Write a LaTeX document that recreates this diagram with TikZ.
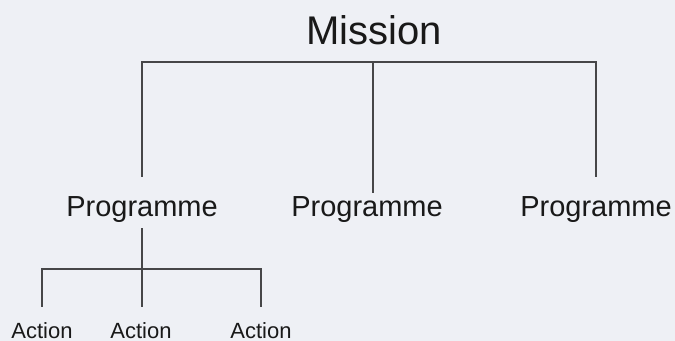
\documentclass[tikz,border=0pt]{standalone}
\usepackage{fontspec}
\setmainfont{Liberation Sans}
\usepackage{tikz}
\definecolor{paper}{RGB}{238,240,245}
\definecolor{ink}{RGB}{25,25,25}
\definecolor{wire}{RGB}{70,70,72}
\tikzstyle{MissionText}=[inner sep=0, anchor=base, text=ink, font=\fontsize{30}{36}\selectfont]
\tikzstyle{ProgText}=[inner sep=0, anchor=base, text=ink, font=\fontsize{21.75}{26}\selectfont]
\tikzstyle{ActText}=[inner sep=0, anchor=base, text=ink, font=\fontsize{16.5}{20}\selectfont]
\tikzstyle{Wire}=[draw=wire, line width=1.2pt]

\begin{document}
\begin{tikzpicture}[x=0.75pt, y=-0.75pt]
    \fill[paper] (0,0) rectangle (675,341);
    \useasboundingbox (0,0) rectangle (675,341);
    \path
    (374,45) node[MissionText] (mission) {Mission}
    (142,216.5) node[ProgText] (prog1) {Programme}
    (367,216.5) node[ProgText] (prog2) {Programme}
    (596,216.5) node[ProgText] (prog3) {Programme}
    (42,339) node[ActText] (act1) {Action}
    (141,339) node[ActText] (act2) {Action}
    (261,339) node[ActText] (act3) {Action};
    \coordinate (mbar) at (373,62);
    \coordinate (abar) at (142,269);

    \draw[Wire, shorten >=14.25pt] (mbar) -| (prog1.north);
    \draw[Wire, shorten >=14.25pt] (mbar) -| (prog3.north);
    \draw[Wire, shorten >=2.25pt] (mbar) -- (mbar |- prog2.north);

    \draw[Wire, shorten <=4pt, shorten >=12pt] (prog1.south) -- (prog1.south |- act2.north);
    \draw[Wire, shorten >=12pt] (abar) -| (act1.north);
    \draw[Wire, shorten >=12pt] (abar) -| (act3.north);
\end{tikzpicture}
\end{document}
